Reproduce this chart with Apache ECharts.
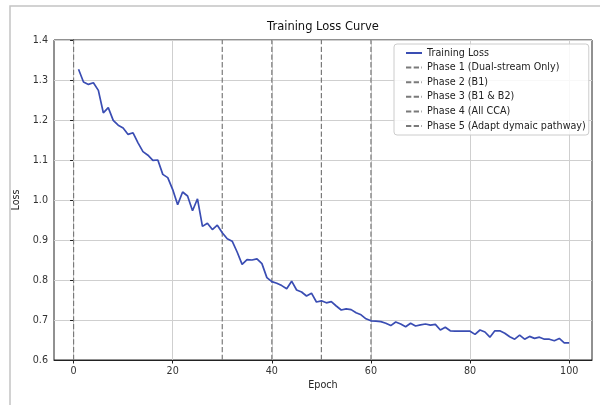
<!DOCTYPE html>
<html>
<head>
<meta charset="utf-8">
<script src="https://cdn.jsdelivr.net/npm/echarts@6/dist/echarts.min.js"></script>
<style>html,body{margin:0;padding:0;background:#fff}#c{width:600px;height:405px}</style>
</head>
<body>
<div id="c"></div>
<script>
// Training loss per epoch (epochs 1..100)
var loss = [
  1.327, 1.295, 1.289, 1.293, 1.274, 1.218, 1.231, 1.199, 1.187, 1.180,
  1.164, 1.168, 1.143, 1.121, 1.112, 1.099, 1.100, 1.064, 1.056, 1.026,
  0.988, 1.020, 1.010, 0.973, 1.003, 0.934, 0.942, 0.926, 0.937, 0.918,
  0.903, 0.897, 0.870, 0.839, 0.851, 0.850, 0.853, 0.841, 0.806, 0.796,
  0.792, 0.786, 0.778, 0.797, 0.775, 0.770, 0.760, 0.767, 0.745, 0.748,
  0.743, 0.746, 0.735, 0.725, 0.728, 0.726, 0.718, 0.713, 0.703, 0.698,
  0.697, 0.696, 0.692, 0.686, 0.695, 0.690, 0.683, 0.692, 0.685, 0.688,
  0.690, 0.687, 0.689, 0.675, 0.682, 0.673, 0.672, 0.672, 0.672, 0.672,
  0.664, 0.675, 0.670, 0.657, 0.673, 0.673, 0.667, 0.658, 0.652, 0.662,
  0.652, 0.659, 0.654, 0.657, 0.652, 0.652, 0.648, 0.654, 0.643, 0.643
];
var firstEpoch = 1;
var phaseNames = [
  'Phase 1 (Dual-stream Only)',
  'Phase 2 (B1)',
  'Phase 3 (B1 & B2)',
  'Phase 4 (All CCA)',
  'Phase 5 (Adapt dymaic pathway)'
];
var phaseEpochs = [0, 30, 40, 50, 60];
var xTicks = [0, 20, 40, 60, 80, 100];
var yRange = [0.6, 1.4];
var xRange = [-3.95, 104.6];

var FONT = 'DejaVu Sans';
var lossData = loss.map(function (v, i) { return [firstEpoch + i, v]; });

var series = [];
// vertical grid lines at the x tick values
series.push({
  name: '_grid', type: 'line', data: [], silent: true, z: 1,
  markLine: {
    silent: true, z: 1, symbol: ['none', 'none'], label: {show: false},
    lineStyle: {color: '#cfcfcf', width: 1, type: 'solid'},
    emphasis: {disabled: true},
    data: xTicks.map(function (t) { return {xAxis: t}; })
  }
});
series.push({
  name: 'Training Loss', type: 'line', data: lossData,
  showSymbol: false, symbol: 'none', z: 5,
  lineStyle: {color: '#3a4db3', width: 1.7},
  itemStyle: {color: '#3a4db3'}
});
phaseNames.forEach(function (n, i) {
  series.push({
    name: n, type: 'line', symbol: 'none', showSymbol: false, z: 3,
    data: [[phaseEpochs[i], yRange[0]], [phaseEpochs[i], yRange[1]]],
    lineStyle: {color: '#7a7a7a', width: 1.2, type: [5.3, 2.4]},
    itemStyle: {color: '#7a7a7a'}
  });
});

var chart = echarts.init(document.getElementById('c'), null, {renderer: 'canvas'});
chart.setOption({
  animation: false,
  backgroundColor: '#ffffff',
  textStyle: {fontFamily: FONT},
  grid: {left: 54, right: 8, top: 40, bottom: 45, show: true, borderColor: '#222', borderWidth: 1, backgroundColor: 'transparent'},
  graphic: [
    {type: 'rect', silent: true, z: -10, shape: {x: 10, y: 6, width: 700, height: 500},
     style: {fill: 'none', stroke: '#c4c4c4', lineWidth: 1.5}},
    {type: 'text', silent: true, x: 323, y: 27,
     style: {text: 'Training Loss Curve', font: '11.5px "DejaVu Sans"', fill: '#111',
             align: 'center', verticalAlign: 'middle', textAlign: 'center', textVerticalAlign: 'middle'}}
  ],
  xAxis: {
    type: 'value', min: xRange[0], max: xRange[1],
    name: 'Epoch', nameLocation: 'middle', nameGap: 20,
    nameTextStyle: {fontSize: 9.6, color: '#222', fontFamily: FONT},
    axisLine: {show: true, lineStyle: {color: '#222', width: 1}},
    axisTick: {show: true, length: 3.5, customValues: xTicks, lineStyle: {color: '#222'}},
    axisLabel: {customValues: xTicks, fontSize: 9.6, color: '#333', margin: 6, fontFamily: FONT},
    splitLine: {show: false}
  },
  yAxis: {
    type: 'value', min: yRange[0], max: yRange[1], interval: 0.1,
    name: 'Loss', nameLocation: 'middle', nameGap: 26,
    nameTextStyle: {fontSize: 9.6, color: '#222', fontFamily: FONT},
    axisLine: {show: true, lineStyle: {color: '#222', width: 1}},
    axisTick: {show: true, length: 3.5, lineStyle: {color: '#222'}},
    axisLabel: {fontSize: 9.6, color: '#333', margin: 6, fontFamily: FONT,
                formatter: function (v) { return v.toFixed(1); }},
    splitLine: {show: true, lineStyle: {color: '#cfcfcf', width: 1}}
  },
  legend: {
    data: ['Training Loss'].concat(phaseNames),
    orient: 'vertical', left: 394, top: 44,
    itemWidth: 16, itemHeight: 10, itemGap: 2.6,
    padding: [3, 3, 3, 11],
    itemStyle: {color: 'rgba(0,0,0,0)', borderWidth: 0, opacity: 0},
    backgroundColor: 'rgba(255,255,255,0.85)', borderColor: '#cccccc', borderWidth: 1, borderRadius: 3,
    textStyle: {fontSize: 9.6, color: '#222', fontFamily: FONT, lineHeight: 12},
    selectedMode: false
  },
  series: series
});
</script>
</body>
</html>
